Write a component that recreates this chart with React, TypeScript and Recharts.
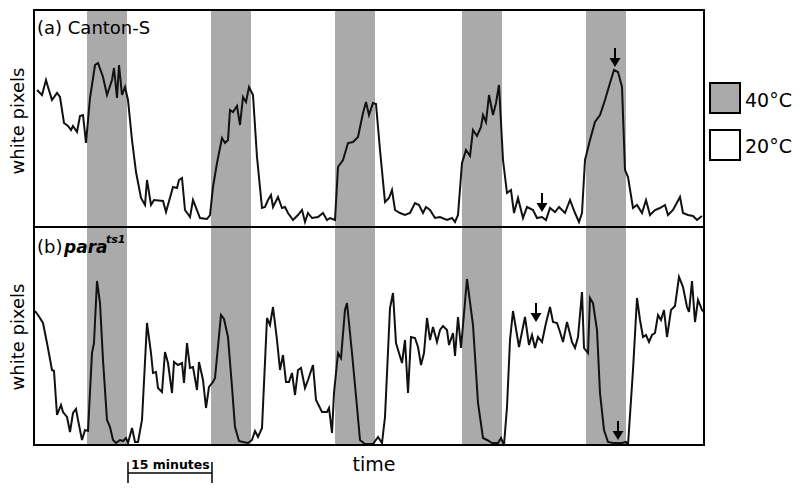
import React from "react";
import { LineChart, Line, XAxis, YAxis, ReferenceArea, ReferenceDot } from "recharts";

// time in arbitrary frame units (83 units = 15 minutes), white pixel counts in arbitrary units
const TIME_A = [
  3, 8, 12, 14, 18, 23, 26, 30, 34, 37, 39, 43, 46, 49, 52, 56, 61, 64, 69, 73, 78, 80, 83, 85, 88, 91, 94, 98,
  102, 107, 111, 113, 117, 120, 129, 132, 139, 143, 145, 148, 151, 156, 159, 166, 173, 176, 179, 183, 188, 191,
  194, 196, 199, 203, 206, 209, 212, 215, 219, 223, 228, 231, 234, 237, 239, 244, 248, 251, 254, 259, 264, 268,
  271, 274, 278, 284, 289, 293, 296, 301, 304, 309, 314, 319, 324, 329, 332, 335, 339, 342, 346, 351, 355, 358,
  361, 366, 371, 376, 381, 385, 389, 392, 396, 401, 406, 413, 418, 421, 424, 428, 432, 436, 439, 443, 447, 449,
  452, 455, 459, 462, 465, 469, 473, 477, 480, 484, 489, 493, 499, 503, 508, 512, 516, 521, 525, 531, 536, 541,
  545, 548, 551, 556, 561, 566, 571, 576, 580, 584, 588, 591, 594, 599, 603, 608, 612, 616, 621, 626, 631, 634,
  639, 646, 649, 654, 659, 663, 668,
];
const WHITE_A = [
  137, 132, 147, 140, 127, 134, 130, 104, 101, 97, 101, 95, 111, 112, 84, 129, 162, 164, 150, 132, 147, 159, 129,
  162, 132, 140, 127, 87, 55, 29, 22, 47, 22, 27, 26, 15, 40, 39, 47, 49, 17, 10, 27, 9, 8, 12, 40, 64, 89, 84,
  87, 117, 115, 121, 102, 130, 125, 140, 132, 70, 19, 20, 27, 32, 20, 30, 19, 20, 14, 7, 12, 17,
  5, 14, 9, 10, 14, 7, 9, 7, 60, 67, 84, 85, 90, 114, 125, 112, 124, 123, 77, 25, 29, 37,
  17, 14, 12, 14, 24, 22, 14, 20, 17, 9, 10, 7, 9, 5, 12, 64, 77, 71, 97, 91, 100, 112,
  105, 132, 112, 124, 142, 67, 34, 37, 14, 29, 9, 20, 17, 9, 10, 7, 19, 15, 20, 14, 27, 14,
  5, 14, 67, 87, 105, 112, 127, 144, 157, 155, 140, 57, 50, 19, 22, 14, 27, 12, 17, 19, 22, 12,
  17, 30, 14, 12, 11, 7, 11,
];

const TIME_B = [
  1, 4, 9, 13, 18, 20, 23, 27, 29, 33, 36, 39, 42, 44, 48, 51, 54, 58, 60, 63, 66, 69, 73, 76, 79, 82, 86, 89,
  92, 94, 98, 101, 104, 108, 113, 117, 119, 122, 124, 128, 131, 134, 138, 140, 144, 148, 150, 153, 156, 159, 163,
  165, 169, 172, 175, 179, 181, 187, 190, 194, 198, 201, 205, 209, 214, 218, 221, 224, 228, 233, 236, 239, 243,
  246, 249, 252, 255, 258, 261, 264, 267, 271, 274, 279, 282, 288, 293, 295, 298, 300, 304, 307, 311, 313, 318,
  323, 326, 331, 339, 344, 348, 351, 356, 359, 362, 368, 371, 374, 377, 381, 384, 387, 390, 393, 396, 399, 403,
  406, 409, 413, 415, 419, 421, 424, 427, 433, 439, 444, 449, 453, 458, 464, 467, 470, 473, 476, 479, 485, 491,
  495, 498, 501, 504, 508, 512, 516, 519, 523, 526, 529, 533, 538, 541, 544, 548, 550, 554, 556, 559, 563, 566,
  570, 574, 579, 588, 592, 594, 599, 603, 606, 609, 612, 615, 618, 621, 624, 627, 630, 633, 637, 641, 645, 649,
  653, 655, 658, 661, 664, 668, 670,
];
const WHITE_B = [
  134, 130, 122, 102, 75, 74, 30, 40, 33, 28, 13, 32, 36, 25, 5, 15, 14, 92, 102, 164, 142, 85, 25, 18, 5, 2, 5, 4,
  7, 2, 17, 3, 3, 25, 122, 92, 72, 73, 57, 53, 93, 82, 52, 83, 80, 82, 62, 102, 77, 78, 55,
  83, 65, 37, 58, 63, 67, 130, 126, 108, 58, 18, 4, 3, 2, 5, 14, 8, 17, 127, 120, 138, 105,
  75, 90, 63, 63, 72, 50, 75, 77, 57, 65, 80, 45, 33, 33, 37, 12, 52, 92, 87, 135, 142, 92,
  38, 5, 1, 1, 8, 2, 28, 137, 152, 102, 82, 105, 52, 108, 107, 98, 80, 92, 127, 105, 118, 103,
  115, 119, 115, 100, 112, 89, 128, 97, 166, 120, 42, 7, 5, 2, 2, 7, 0, 38, 105, 134, 98, 128,
  100, 110, 97, 108, 103, 122, 138, 123, 122, 113, 103, 123, 103, 97, 108, 153, 97, 92, 147, 142, 115, 52,
  15, 3, 2, 2, 3, 0, 75, 147, 125, 108, 110, 103, 110, 112, 130, 125, 135, 108, 135, 139, 168, 158,
  138, 133, 164, 123, 145, 135, 133,
];

// 40°C heat pulses
const HEAT_START = [53, 177, 301, 428, 552];
const HEAT_END = [93, 217, 341, 468, 592];

const ARROWS_A = [
  { t: 508, v: 15 },
  { t: 581, v: 160 },
];
const ARROWS_B = [
  { t: 502, v: 123 },
  { t: 584, v: 5 },
];

const dataA = TIME_A.map((t, i) => ({ t, white: WHITE_A[i] }));
const dataB = TIME_B.map((t, i) => ({ t, white: WHITE_B[i] }));

const FONT = "'DejaVu Sans', Verdana, sans-serif";
const HEAT = "#aaaaaa";

function ArrowMark(props: any) {
  const { cx, cy } = props;
  if (cx == null || cy == null) return null;
  return (
    <g>
      <line x1={cx} y1={cy - 19} x2={cx} y2={cy - 7} stroke="#000" strokeWidth={2} />
      <polygon points={`${cx - 5.5},${cy - 9} ${cx + 5.5},${cy - 9} ${cx},${cy}`} fill="#000" />
    </g>
  );
}

function Panel({ data, arrows, top, yMax }: { data: any[]; arrows: { t: number; v: number }[]; top: number; yMax: number }) {
  return (
    <LineChart
      width={720}
      height={yMax + top + 13}
      data={data}
      margin={{ top, right: 16, bottom: 13, left: 34 }}
    >
      <XAxis dataKey="t" type="number" domain={[0, 670]} hide />
      <YAxis type="number" domain={[0, yMax]} hide allowDataOverflow />
      {HEAT_START.map((s, i) => (
        <ReferenceArea key={s} x1={s} x2={HEAT_END[i]} fill={HEAT} fillOpacity={1} stroke="none" />
      ))}
      <Line
        type="linear"
        dataKey="white"
        stroke="#111"
        strokeWidth={2}
        dot={false}
        isAnimationActive={false}
      />
      {arrows.map((a) => (
        <ReferenceDot key={a.t} x={a.t} y={a.v} r={0} shape={ArrowMark} />
      ))}
    </LineChart>
  );
}

export default function App() {
  return (
    <div style={{ position: "absolute", left: 0, top: 0, width: 800, height: 491, background: "#fff", fontFamily: FONT }}>
      <div style={{ position: "absolute", left: 0, top: 0 }}>
        <Panel data={dataA} arrows={ARROWS_A} top={10} yMax={217} />
      </div>
      <div style={{ position: "absolute", left: 0, top: 227 }}>
        <Panel data={dataB} arrows={ARROWS_B} top={0} yMax={218} />
      </div>
      <svg
        width={800}
        height={491}
        style={{ position: "absolute", left: 0, top: 0, pointerEvents: "none" }}
        fontFamily={FONT}
      >
        <rect x={34} y={10} width={670} height={435} fill="none" stroke="#000" strokeWidth={2} />
        <line x1={34} y1={227} x2={704} y2={227} stroke="#000" strokeWidth={2} />

        <text x={37} y={34} fontSize={18} fill="#000">(a) Canton-S</text>
        <text x={37} y={253} fontSize={18} fill="#000">(b)</text>
        <text x={64} y={253} fontSize={17} fontWeight="bold" fontStyle="italic" fill="#000">para</text>
        <text x={106} y={243} fontSize={11} fontWeight="bold" fontStyle="italic" fill="#000">ts1</text>

        <text x={24} y={121} fontSize={18} textAnchor="middle" transform="rotate(-90 24 121)" fill="#000">white pixels</text>
        <text x={24} y={337} fontSize={18} textAnchor="middle" transform="rotate(-90 24 337)" fill="#000">white pixels</text>

        <rect x={710} y={83} width={30} height={30} fill={HEAT} stroke="#000" strokeWidth={2} />
        <text x={745} y={107} fontSize={19} fill="#000">40°C</text>
        <rect x={710} y={130} width={30} height={30} fill="#fff" stroke="#000" strokeWidth={2} />
        <text x={745} y={153} fontSize={19} fill="#000">20°C</text>

        <line x1={128} y1={473} x2={212} y2={473} stroke="#000" strokeWidth={1.5} />
        <line x1={128} y1={462} x2={128} y2={483} stroke="#000" strokeWidth={1.5} />
        <line x1={212} y1={462} x2={212} y2={483} stroke="#000" strokeWidth={1.5} />
        <text x={131} y={469} fontSize={12.5} fontWeight="bold" fill="#000">15 minutes</text>

        <text x={374} y={471} fontSize={19} textAnchor="middle" fill="#000">time</text>
      </svg>
    </div>
  );
}
